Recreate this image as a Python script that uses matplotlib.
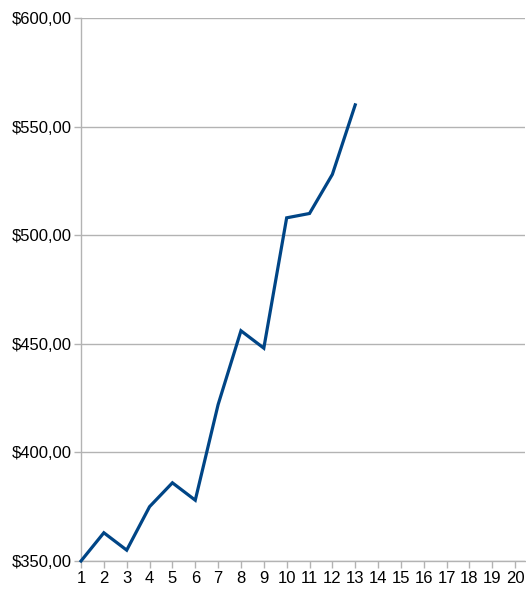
import matplotlib
matplotlib.use("Agg")
import matplotlib.pyplot as plt
from matplotlib.ticker import FuncFormatter

x_labels = list(range(1, 21))
x_values = list(range(1, 14))
y_values = [350, 363, 355, 375, 386, 378, 422, 456, 448, 508, 510, 528, 560]

plt.rcParams['font.family'] = ['Liberation Sans', 'DejaVu Sans']
fig = plt.figure(figsize=(5.26, 6.12), dpi=100)
ax = fig.add_axes([81/526, 1-561/612, (525-81)/526, (561-18)/612])

ax.plot(x_values, y_values, color='#004586', lw=2.3, solid_joinstyle='miter', clip_on=False, zorder=3)

ax.set_xlim(1, 20.43)
ax.set_ylim(350, 600)
ax.set_yticks([350, 400, 450, 500, 550, 600])
ax.set_xticks(x_labels)
ax.yaxis.set_major_formatter(FuncFormatter(lambda v, p: f"${v:.2f}".replace('.', ',')))
ax.grid(axis='y', color='#b3b3b3', lw=1)
ax.set_axisbelow(True)
for s in ['top', 'right']:
    ax.spines[s].set_visible(False)
for s in ['left', 'bottom']:
    ax.spines[s].set_color('#b3b3b3')
    ax.spines[s].set_linewidth(1)
ax.tick_params(axis='both', colors='#b3b3b3', length=5, width=1, labelcolor='black', labelsize=12)
ax.tick_params(axis='x', pad=2)
ax.tick_params(axis='y', pad=2)

fig.savefig('out.png', dpi=100)
